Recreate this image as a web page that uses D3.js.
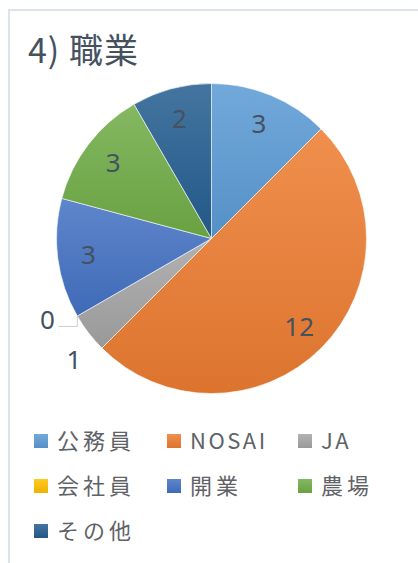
<!DOCTYPE html>
<html>
<head>
<meta charset="utf-8">
<script src="https://cdn.jsdelivr.net/npm/d3@7"></script>
<style>
  html, body { margin: 0; padding: 0; background: #fff; }
  svg { display: block; }
</style>
</head>
<body>
<div id="chart"></div>
<script>
const title = '4) 職業';
const categories = ['公務員', 'NOSAI', 'JA', '会社員', '開業', '農場', 'その他'];
const values = [3, 12, 1, 0, 3, 3, 2];
const colors = ['#5B9BD5', '#ED7D31', '#A5A5A5', '#FFC000', '#4472C4', '#70AD47', '#255E91'];

const width = 418, height = 563;
const cx = 211.5, cy = 238.5, radius = 155;

const svg = d3.select('#chart').append('svg')
  .attr('width', width)
  .attr('height', height);

// chart frame (only top and left edges are in view)
svg.append('rect')
  .attr('x', 9).attr('y', 10)
  .attr('width', 600).attr('height', 700)
  .attr('fill', 'none')
  .attr('stroke', '#dde3eb')
  .attr('stroke-width', 2);

svg.append('text')
  .attr('x', 28).attr('y', 63)
  .style('font-family', '"Noto Sans CJK JP", "Noto Sans", sans-serif')
  .style('font-size', '34px')
  .style('letter-spacing', '1px')
  .attr('fill', '#46515f')
  .text(title);

const data = categories.map((c, i) => ({name: c, value: values[i], color: colors[i]}));
const total = d3.sum(values);

// per-slice vertical gradients
const defs = svg.append('defs');
data.forEach((d, i) => {
  const g = defs.append('linearGradient')
    .attr('id', 'grad' + i)
    .attr('x1', 0).attr('y1', 0).attr('x2', 0).attr('y2', 1);
  g.append('stop').attr('offset', '0%').attr('stop-color', d3.interpolateRgb(d.color, '#fff')(0.14));
  g.append('stop').attr('offset', '100%').attr('stop-color', d3.interpolateRgb(d.color, '#000')(0.07));
});

const pie = d3.pie().sort(null).value(d => d.value);
const arcs = pie(data);
const arc = d3.arc().innerRadius(0).outerRadius(radius);

const g = svg.append('g').attr('transform', `translate(${cx},${cy})`);

g.selectAll('path.slice')
  .data(arcs.filter(a => a.data.value > 0))
  .enter().append('path')
    .attr('class', 'slice')
    .attr('d', arc)
    .attr('fill', a => 'url(#grad' + a.index + ')')
    .attr('stroke', '#fff')
    .attr('stroke-width', 0.6);

const labelStyle = sel => sel
  .style('font-family', '"Noto Sans", sans-serif')
  .style('font-size', '26px')
  .attr('fill', '#46515f')
  .attr('text-anchor', 'middle')
  .attr('dy', '0.36em');

// inside labels
const inside = arcs.filter(a => a.data.value / total >= 0.05);
const labelArc = d3.arc().innerRadius(radius * 0.8).outerRadius(radius * 0.8);
g.selectAll('text.inside')
  .data(inside)
  .enter().append('text')
    .attr('class', 'inside')
    .attr('transform', a => `translate(${labelArc.centroid(a)})`)
    .call(labelStyle)
    .text(a => a.data.value);

// outside labels for small slices, spread apart
const outside = arcs.filter(a => a.data.value / total < 0.05)
  .map(a => ({a, angle: (a.startAngle + a.endAngle) / 2}));
const minGap = 15 * Math.PI / 180;
if (outside.length > 1) {
  const mean = d3.mean(outside, o => o.angle);
  const span = minGap * (outside.length - 1);
  outside.forEach((o, i) => { o.angle = mean - span / 2 + i * minGap; });
}
const outR = 183;
outside.forEach(o => {
  o.x = outR * Math.sin(o.angle);
  o.y = -outR * Math.cos(o.angle);
  o.ex = radius * Math.sin(o.a.startAngle);
  o.ey = -radius * Math.cos(o.a.startAngle);
});

g.selectAll('polyline.leader')
  .data(outside.filter(o => o.a.data.value === 0))
  .enter().append('polyline')
    .attr('class', 'leader')
    .attr('points', o => [[o.ex, o.ey], [o.ex, o.y + 7], [o.x + 11, o.y + 7]].map(p => p.join(',')).join(' '))
    .attr('fill', 'none')
    .attr('stroke', '#c8ccd2')
    .attr('stroke-width', 1);

g.selectAll('text.outside')
  .data(outside)
  .enter().append('text')
    .attr('class', 'outside')
    .attr('x', o => o.x)
    .attr('y', o => o.y)
    .call(labelStyle)
    .text(o => o.a.data.value);

// legend
const legendCols = [34, 167, 298];
const legendRows = [441, 486, 531];
const legend = svg.append('g').selectAll('g')
  .data(data)
  .enter().append('g')
    .attr('transform', (d, i) => `translate(${legendCols[i % 3]},${legendRows[Math.floor(i / 3)]})`);

legend.append('rect')
  .attr('x', 0).attr('y', -7)
  .attr('width', 14).attr('height', 14)
  .attr('fill', (d, i) => 'url(#grad' + i + ')');

legend.append('text')
  .attr('x', 23)
  .attr('dy', '0.36em')
  .style('font-family', '"Noto Sans CJK JP", sans-serif')
  .style('font-size', '22px')
  .style('letter-spacing', (d) => /^[A-Z]+$/.test(d.name) ? '2.5px' : '4px')
  .style('font-stretch', 'expanded')
  .attr('fill', '#5f6368')
  .text(d => d.name);
</script>
</body>
</html>
